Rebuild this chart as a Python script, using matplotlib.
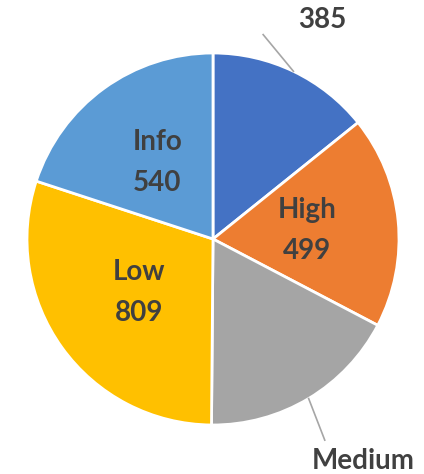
import numpy as np
import matplotlib
matplotlib.use("Agg")
import matplotlib.pyplot as plt

# severity breakdown
categories = ["Critical", "High", "Medium", "Low", "Info"]
counts = [385, 499, 472, 809, 540]
colors = ["#4472C4", "#ED7D31", "#A5A5A5", "#FFC000", "#5B9BD5"]

W, H = 424, 474
fig = plt.figure(figsize=(W / 100, H / 100), dpi=100)
ax = fig.add_axes([0, 0, 1, 1])

cx, cy, R = 213, H - 239, 186
wedges, _ = ax.pie(counts, colors=colors, startangle=90, counterclock=False,
                   center=(cx, cy), radius=R, frame=True,
                   wedgeprops=dict(edgecolor="white", linewidth=2))
ax.set_xlim(0, W)
ax.set_ylim(0, H)
ax.set_aspect("equal")
ax.axis("off")

txt = dict(fontsize=20, fontweight="bold", color="#404040", family=["Lato", "DejaVu Sans"],
           ha="center", va="center")


def mid(w):
    return np.deg2rad((w.theta1 + w.theta2) / 2)


# labels inside the slices
inner = {"High": 0.51, "Low": 0.49, "Info": 0.51}
for w, cat, n in zip(wedges, categories, counts):
    if cat in inner:
        a = mid(w)
        r = inner[cat] * R
        x, y = cx + r * np.cos(a), cy + r * np.sin(a)
        ax.text(x, y + 20, cat, **txt)
        ax.text(x, y - 21, str(n), **txt)

# outside labels with leader lines (only the part that fits on the canvas)
outer = {"Critical": (1.32, (-59, -15)), "Medium": (1.43, (-38, 21))}
for w, cat, n in zip(wedges, categories, counts):
    if cat in outer:
        f, (dx, dy) = outer[cat]
        a = mid(w)
        ex, ey = cx + R * np.cos(a), cy + R * np.sin(a)
        lx, ly = cx + f * R * np.cos(a), cy + f * R * np.sin(a)
        if cat == "Critical":
            lx += 3
            ly -= 2
            ax.text(lx, ly, str(n), **txt)
        else:
            lx += 13
            ly += 6
            ax.text(lx, ly, cat, **txt)
        ax.plot([ex, lx + dx], [ey, ly + dy], color="#A6A6A6", lw=1.2)

fig.savefig("out.png", dpi=100)
